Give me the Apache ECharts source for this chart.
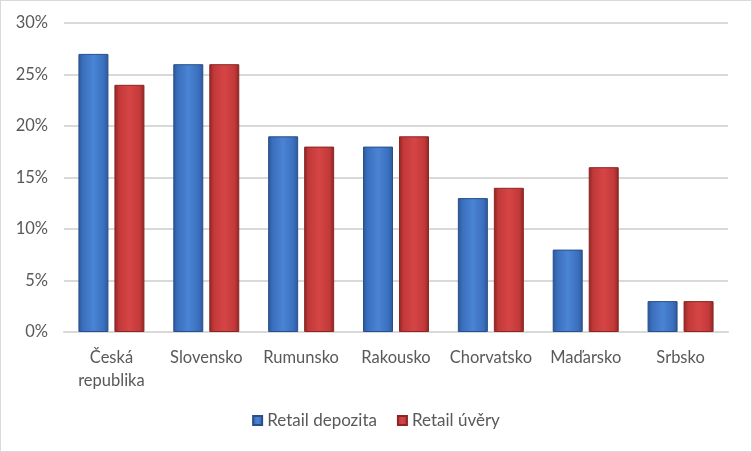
<!DOCTYPE html>
<html><head><meta charset="utf-8">
<script src="https://cdn.jsdelivr.net/npm/echarts@6/dist/echarts.min.js"></script>
<style>html,body{margin:0;padding:0;background:#fff}#c{width:750px;height:450px;border:1px solid #d9d9d9}</style>
</head><body><div id="c"></div>
<script>
const categories = ['Česká\nrepublika','Slovensko','Rumunsko','Rakousko','Chorvatsko','Maďarsko','Srbsko'];
const depozita = [27,26,19,18,13,8,3];
const uvery = [24,26,18,19,14,16,3];
const yTicks = [0,5,10,15,20,25,30];
const font = 'Lato, "Open Sans", sans-serif';
function grad(dark, mid, light){
  return new echarts.graphic.LinearGradient(0,0,1,0,[
    {offset:0,color:dark},{offset:0.15,color:mid},{offset:0.5,color:light},{offset:0.85,color:mid},{offset:1,color:dark}]);
}
const chart = echarts.init(document.getElementById('c'));
chart.setOption({
  animation:false,
  grid:{left:63,right:23,top:22,bottom:119},
  legend:{bottom:17,left:'center',icon:'rect',itemWidth:9,itemHeight:9,itemGap:20,
    textStyle:{fontFamily:font,fontSize:17,color:'#595959'},
    data:['Retail depozita','Retail úvěry']},
  xAxis:{type:'category',data:categories,
    axisLine:{lineStyle:{color:'#d9d9d9',width:2}},axisTick:{show:false},
    axisLabel:{interval:0,fontFamily:font,fontSize:16.5,color:'#595959',margin:14,lineHeight:23,verticalAlign:'top'}},
  yAxis:{type:'value',min:yTicks[0],max:yTicks[yTicks.length-1],interval:5,
    axisLine:{show:false},axisTick:{show:false},
    splitLine:{lineStyle:{color:'#d9d9d9',width:2}},
    axisLabel:{fontFamily:font,fontSize:16.5,color:'#595959',margin:16,formatter:v=>v+'%'}},
  series:[
    {name:'Retail depozita',type:'bar',data:depozita,barWidth:30,barGap:'20%',
     itemStyle:{color:grad('#2b5797','#3a6fbd','#4a84d4'),borderColor:'#284f8a',borderWidth:1}},
    {name:'Retail úvěry',type:'bar',data:uvery,barWidth:30,
     itemStyle:{color:grad('#8e2422','#c2393a','#d64545'),borderColor:'#8a2624',borderWidth:1}}
  ]
});
</script></body></html>
